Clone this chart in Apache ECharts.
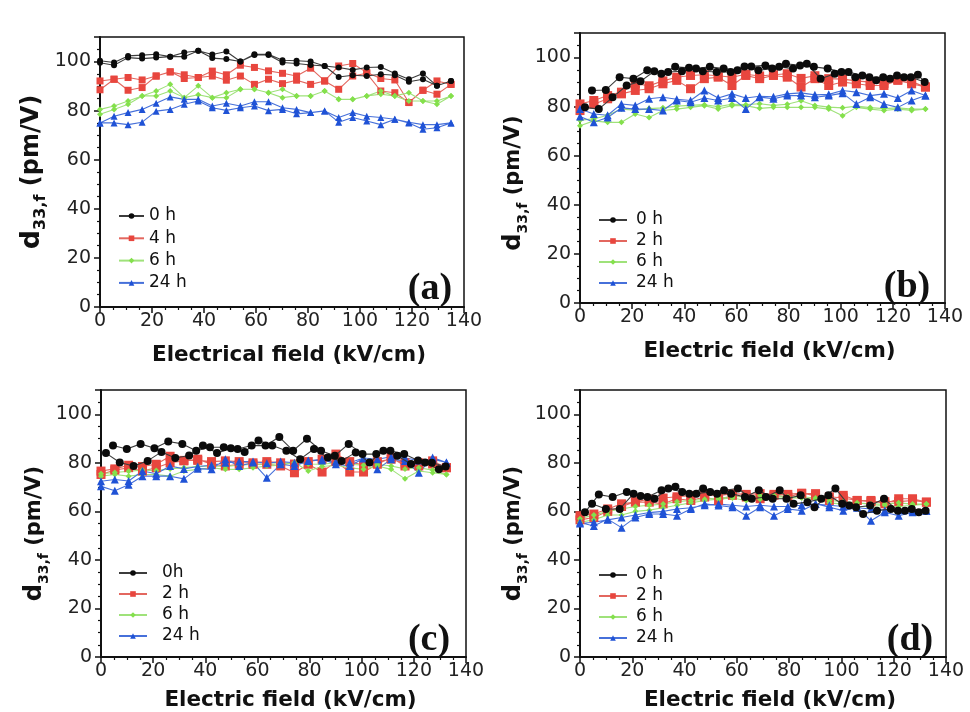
<!DOCTYPE html>
<html>
<head>
<meta charset="utf-8">
<script src="https://cdn.jsdelivr.net/npm/echarts/dist/echarts.min.js"></script>
<style>
  html, body { margin: 0; padding: 0; background: #fff; }
  #chart { width: 970px; height: 712px; }
</style>
</head>
<body>
<div id="chart"></div>
<script>
// ---- Electric field sampling (kV/cm) ----
const fieldA = [0, 5.4, 10.8, 16.2, 21.6, 27, 32.4, 37.8, 43.2, 48.6, 54, 59.4, 64.8, 70.2, 75.6, 81, 86.4, 91.8, 97.2, 102.6, 108, 113.4, 118.8, 124.2, 129.6, 135];
const fieldB = [0, 5.3, 10.6, 15.9, 21.2, 26.5, 31.8, 37.1, 42.4, 47.7, 53, 58.3, 63.6, 68.9, 74.2, 79.5, 84.8, 90.1, 95.4, 100.7, 106, 111.3, 116.6, 121.9, 127.2, 132.5];
const fieldFineUp = [1.9, 7.2, 12.5, 17.9, 23.2, 28.5, 33.8, 39.1, 44.5, 49.8, 55.1, 60.4, 65.7, 71.1, 76.4, 81.7, 87, 92.3, 97.7, 103, 108.3, 113.6, 118.9, 124.3, 129.6];
const fieldFineDown = [4.6, 9.9, 15.2, 20.5, 25.8, 31.2, 36.5, 41.8, 47.1, 52.4, 57.8, 63.1, 68.4, 73.7, 79, 84.4, 89.7, 95, 100.3, 105.6, 111, 116.3, 121.6, 126.9, 132.2];

// ---- (a) d33,f (pm/V), rising and falling sweeps ----
const a0Up = [99.5, 98.5, 101.6, 101.2, 101.6, 102, 102, 104.4, 101.4, 101, 100, 102.7, 102.7, 99.6, 99.2, 98.6, 98.2, 93.7, 94.4, 94.1, 94.8, 94.4, 91.8, 92.8, 90.1, 92.1];
const a0Down = [100.3, 99.6, 102.3, 102.6, 103, 102, 103.7, 104.4, 102.9, 104.1, 100, 103, 103, 100.5, 100.3, 100, 98.2, 97.6, 96.6, 97.6, 97.8, 95.1, 92.8, 95.1, 90.1, 92.1];
const a4Up = [88.5, 92.8, 88.3, 89.4, 94.1, 95.8, 93.1, 93.5, 94.1, 92.4, 94.1, 90.7, 92.8, 91, 92.4, 90.7, 92.1, 88.7, 94.1, 95.2, 88, 87.3, 83.3, 88.3, 86.7, 90.7];
const a4Down = [92.1, 92.8, 93.5, 92.5, 94.1, 95.8, 94.6, 93.5, 96.1, 94.6, 98.5, 97.6, 96.2, 95.2, 94.1, 97.3, 92.1, 98.2, 99.2, 95.5, 93.1, 92.5, 83.3, 88.3, 92.1, 90.7];
const a6Up = [78.5, 80.5, 82.6, 86, 86, 88, 85.3, 86.5, 85.3, 85.3, 88.7, 88.7, 87.3, 85.3, 86, 86, 88, 84.6, 84.6, 86, 86.7, 86, 83.9, 83.9, 82.6, 86];
const a6Down = [80.5, 81.9, 83.9, 86, 88, 90.7, 85.3, 90.1, 85.3, 87.3, 88.7, 88.7, 87.3, 88.7, 86, 86, 88, 84.6, 84.6, 86, 88, 86, 87.3, 83.9, 83.9, 86];
const a24Up = [75, 75, 74.3, 75.3, 79.8, 80.5, 82.6, 83.9, 81.2, 80.1, 81.2, 81.9, 80, 80.5, 78.7, 79.2, 79.9, 75.3, 77.2, 75.8, 74.3, 76.5, 75, 72.4, 73, 75];
const a24Down = [75, 77.7, 79.2, 80.5, 83, 85.6, 84.6, 84.6, 81.9, 83, 81.9, 83.6, 83.6, 81.2, 80.5, 79.2, 79.9, 77.2, 79.2, 77.7, 77.2, 76.5, 75.3, 74.3, 74.3, 75];

// ---- (b) ----
const b0Up = [79.7, 79, 83.8, 88.6, 90.3, 94.4, 94.1, 94.4, 95.5, 96.2, 95.5, 94.8, 96.4, 96.8, 96.2, 95.5, 97.5, 91.4, 93.4, 94.1, 92.7, 90.7, 91.4, 92, 93];
const b0Down = [86.6, 86.8, 92, 91.4, 94.8, 93.4, 96.2, 95.8, 94.4, 94.1, 94.1, 96.4, 94.8, 95.5, 97.5, 96.8, 96.2, 95.5, 94.1, 92, 92, 92, 92.7, 92, 90];
const b2Up = [78.4, 81, 83.2, 85.2, 86.6, 87.3, 89.3, 90.7, 87.3, 91.4, 92, 88.6, 92.7, 91.4, 92.7, 92, 88, 91.4, 88.6, 90, 89.3, 88.6, 88.6, 90.7, 89.3, 88];
const b2Down = [81.1, 82.5, 84.5, 85.9, 89.3, 88.5, 90.5, 92, 92.7, 93, 92.6, 92, 93.2, 92.5, 93, 93.4, 91.5, 92.6, 91.4, 91.2, 90.5, 90, 89.5, 91, 90.2, 88];
const b6Up = [72.2, 74.2, 73.6, 73.6, 77, 75.6, 78.4, 79, 79.7, 80.4, 79, 80.4, 80.4, 79.3, 79.7, 79.7, 79.7, 79.7, 79, 76.3, 79.7, 79, 78.4, 79, 78.4, 79];
const b6Down = [74.5, 75, 76.5, 79, 78.5, 79.2, 79.5, 80.2, 80.5, 80.8, 80, 81, 80.8, 81.2, 80.5, 81, 82.4, 80.5, 79.8, 79.5, 80.2, 79.6, 79.2, 79.5, 79, 79];
const b24Up = [76, 73.6, 75.6, 79.5, 79, 79, 78.4, 82.5, 81.8, 83.5, 82.5, 83.5, 79, 83.8, 83.2, 84.5, 84.5, 83.8, 84.5, 85.5, 81.1, 83.8, 81.1, 79.7, 82.5, 84.5];
const b24Down = [79, 77, 76.5, 81.1, 80.5, 83.2, 83.8, 83, 82.5, 86.6, 83.5, 85.2, 83.5, 84.2, 84, 85.2, 85.6, 84.8, 85, 86.6, 85.9, 84.5, 85.2, 83.5, 86.6, 84.5];

// ---- (c) ----
const c0Up = [84, 80.1, 78.7, 80.8, 84.5, 82, 83, 87.1, 84, 86, 84.5, 89.2, 87.1, 85, 81.5, 85.7, 82.2, 80.8, 84.3, 80.1, 85, 82.9, 79.5, 80.1, 77.3];
const c0Down = [87.1, 85.7, 87.8, 86, 88.8, 87.8, 85, 86.4, 86.4, 85.7, 87.1, 87.1, 90.6, 85, 89.9, 85, 82.9, 87.8, 83.6, 83.6, 85, 83.6, 81, 80, 78.5];
const c2Up = [75.2, 77, 78, 76.6, 78, 80, 80.8, 81.5, 79.4, 78.7, 79.4, 79.4, 79.4, 78.7, 75.9, 79.4, 76.2, 80.5, 76.2, 76.2, 79.4, 82.2, 78.7, 78.7, 80.8, 78];
const c2Down = [76.6, 77.5, 79, 78.5, 79.4, 82.7, 81, 81, 80.5, 80.8, 80.5, 80, 80.5, 80, 79.5, 80.5, 81.5, 83.6, 80.5, 79, 80.5, 81.5, 80, 80, 79.5, 78];
const c6Up = [74.5, 75.2, 74.5, 75.2, 75.2, 74.5, 76.6, 77.3, 78, 77.3, 77.3, 78, 78.7, 79, 80.1, 76.6, 78.5, 79, 78, 77.3, 78.7, 77.3, 73.4, 76.6, 75.9, 75.2];
const c6Down = [75.5, 76, 76.5, 77, 76.8, 77.5, 78, 78.5, 78.7, 78.5, 79, 79.4, 79.4, 79.6, 80, 79.5, 79.4, 80, 79.4, 79, 79.4, 78.7, 77.5, 78, 77, 75.2];
const c24Up = [70.3, 68.5, 71, 74.5, 74.5, 74.5, 73.4, 77.6, 77.3, 81.5, 78.7, 80.1, 73.8, 79.4, 78.7, 80.8, 81.5, 79.4, 78.7, 81.8, 77.3, 81.5, 80.8, 75.9, 82.2, 80.1];
const c24Down = [72.4, 73.1, 72.5, 76.6, 75.5, 78.7, 77.5, 78.5, 79, 80, 80.5, 80.5, 79.8, 80.5, 80, 81, 81, 80.5, 80, 82, 81.5, 82.5, 82, 81, 81.5, 80.1];

// ---- (d) ----
const d0Up = [59.6, 66.9, 65.9, 68, 66.3, 65.2, 69.4, 68, 67.3, 68, 68.7, 69.4, 65.2, 65.9, 68.7, 63.1, 63.8, 65.2, 69.4, 62.4, 58.9, 60.3, 61, 60.3, 59.6];
const d0Down = [63.1, 61, 61, 67.3, 65.9, 68.7, 70.1, 67.3, 69.4, 67.3, 67.3, 65.9, 68.7, 65.2, 65.2, 66.6, 61.7, 66.6, 63.1, 61.7, 62.4, 65.2, 60.3, 61, 60.3];
const d2Up = [58.2, 58.9, 61, 63.1, 63.8, 63.8, 63.1, 65.2, 64.5, 65.9, 64.5, 66.6, 65.9, 65.2, 66.6, 66, 67.3, 67.3, 64.5, 66.6, 64.5, 64.5, 63.1, 65.2, 65.2, 63.8];
const d2Down = [56.5, 57.5, 60, 62, 64, 65, 65.5, 66, 66.5, 67, 66.5, 67.3, 67, 67.3, 67, 67, 67.5, 66.5, 66, 65.5, 64.5, 64, 64, 64, 64.5, 63.8];
const d6Up = [55.5, 56.5, 58.5, 58.5, 60, 60.5, 61.5, 62.5, 63.5, 64.5, 65, 65.5, 64.5, 65, 65.5, 65.5, 65.5, 65, 63.5, 63, 62, 62, 62.5, 62, 62.5, 63];
const d6Down = [57, 58.5, 60, 61, 62, 62.5, 63, 64, 64.5, 65, 65.5, 66, 66, 66.5, 66.5, 66, 66, 65.5, 64.5, 64, 63.5, 63, 63, 63.5, 63, 63];
const d24Up = [55.4, 54, 56.8, 53.3, 57.5, 58.9, 58.9, 58.2, 61, 63.1, 62.4, 61.7, 58.2, 61.7, 58.2, 61, 60.3, 63.1, 61.7, 60.3, 61.7, 56.1, 59.6, 58.2, 59.6, 60.3];
const d24Down = [55, 55.5, 56.5, 57.5, 58.5, 59.5, 60, 61, 61.5, 62.5, 63, 62.5, 62, 62.5, 62, 62, 62.5, 63, 62.5, 62, 61.5, 61, 60.5, 60.5, 60.3, 60.3];

// ---- Legend labels per panel ----
const legendA = ['0 h', '4 h', '6 h', '24 h'];
const legendB = ['0 h', '2 h', '6 h', '24 h'];
const legendC = ['0h', '2 h', '6 h', '24 h'];
const legendD = ['0 h', '2 h', '6 h', '24 h'];

const FONT = '"DejaVu Sans", Verdana, sans-serif';
const panels = [
  { key: 'a', grid: { left: 100, top: 37, width: 364, height: 270 }, xTitle: 'Electrical field (kV/cm)', letter: '(a)', letterPos: [430, 289],
    legend: { left: 118, top: 206, gap: 2.3, width: 25, pad: 0 }, yGap: 51, yShift: 0, big: true, labels: legendA },
  { key: 'b', grid: { left: 580, top: 33, width: 365, height: 270 }, xTitle: 'Electric field (kV/cm)', letter: '(b)', letterPos: [907, 287],
    legend: { left: 598, top: 210, gap: 1.0, width: 28, pad: 4 }, yGap: 46, yShift: 30, big: false, labels: legendB },
  { key: 'c', grid: { left: 101, top: 390, width: 365, height: 267 }, xTitle: 'Electric field (kV/cm)', letter: '(c)', letterPos: [429, 640],
    legend: { left: 118, top: 563, gap: 1.0, width: 28, pad: 10 }, yGap: 46, yShift: 20, big: false, labels: legendC },
  { key: 'd', grid: { left: 580, top: 390, width: 366, height: 267 }, xTitle: 'Electric field (kV/cm)', letter: '(d)', letterPos: [910, 640],
    legend: { left: 598, top: 565, gap: 1.0, width: 28, pad: 4 }, yGap: 46, yShift: 20, big: false, labels: legendD }
];

// symbol / colour style of the four ageing times
const kinds = [
  { symbol: 'circle', fill: '#0b0b0b', line: '#3c3c3c', sizeA: 6, size: 8 },
  { symbol: 'rect', fill: '#e8463e', line: '#e3675f', sizeA: 7, size: 9 },
  { symbol: 'diamond', fill: '#84e04c', line: '#9fe27a', sizeA: 6, size: 6 },
  { symbol: 'triangle', fill: '#1f52d6', line: '#4670da', sizeA: 7, size: 8 }
];

// sweep pairs (x of rising sweep, y rising, x of falling sweep, y falling)
const sweeps = {
  a: [[fieldA, a0Up, fieldA, a0Down], [fieldA, a4Up, fieldA, a4Down], [fieldA, a6Up, fieldA, a6Down], [fieldA, a24Up, fieldA, a24Down]],
  b: [[fieldFineUp, b0Up, fieldFineDown, b0Down], [fieldB, b2Up, fieldB, b2Down], [fieldB, b6Up, fieldB, b6Down], [fieldB, b24Up, fieldB, b24Down]],
  c: [[fieldFineUp, c0Up, fieldFineDown, c0Down], [fieldB, c2Up, fieldB, c2Down], [fieldB, c6Up, fieldB, c6Down], [fieldB, c24Up, fieldB, c24Down]],
  d: [[fieldFineUp, d0Up, fieldFineDown, d0Down], [fieldB, d2Up, fieldB, d2Down], [fieldB, d6Up, fieldB, d6Down], [fieldB, d24Up, fieldB, d24Down]]
};

function loopData(xu, yu, xd, yd) {
  const up = xu.map((x, i) => [x, yu[i]]);
  const down = xd.map((x, i) => [x, yd[i]]).reverse();
  return up.concat(down);
}

const grids = [], xAxes = [], yAxes = [], series = [], legends = [], graphics = [];

panels.forEach((p, gi) => {
  grids.push(Object.assign({ show: true, borderColor: '#111', borderWidth: 1.5, backgroundColor: 'transparent' }, p.grid));
  xAxes.push({
    type: 'value', gridIndex: gi, min: 0, max: 140, interval: 20,
    axisLine: { lineStyle: { color: '#111', width: 2 } },
    axisTick: { inside: false, length: 6, lineStyle: { color: '#111', width: 1.5 } },
    minorTick: { show: true, splitNumber: 4, length: 3, lineStyle: { color: '#111', width: 1.2 } },
    splitLine: { show: false },
    axisLabel: { fontFamily: FONT, fontSize: 19, color: '#222', margin: 5 },
    name: p.xTitle, nameLocation: 'middle', nameGap: gi < 2 ? 37 : 32,
    nameTextStyle: { fontFamily: FONT, fontSize: 21.5, fontWeight: 'bold', color: '#111', padding: [0, 0, 0, 14] }
  });
  const big = p.big;
  yAxes.push({
    type: 'value', gridIndex: gi, min: 0, max: 110, interval: 20,
    axisLine: { show: true, lineStyle: { color: '#111', width: 2 } },
    axisTick: { show: true, inside: false, length: 6, lineStyle: { color: '#111', width: 1.5 } },
    minorTick: { show: true, splitNumber: 4, length: 3, lineStyle: { color: '#111', width: 1.2 } },
    splitLine: { show: false },
    axisLabel: { fontFamily: FONT, fontSize: 19, color: '#222', margin: 9, showMaxLabel: false },
    name: '{d|d}{s|33,f}{u| (pm/V)}', nameLocation: 'middle', nameRotate: 90, nameGap: p.yGap,
    nameTextStyle: {
      padding: [0, p.yShift, 0, 0],
      rich: {
        d: { fontFamily: FONT, fontWeight: 'bold', fontSize: big ? 27 : 24, color: '#111', lineHeight: 34 },
        s: { fontFamily: FONT, fontWeight: 'bold', fontSize: big ? 16 : 14, color: '#111', lineHeight: 34, verticalAlign: 'bottom' },
        u: { fontFamily: FONT, fontWeight: 'bold', fontSize: big ? 24 : 21, color: '#111', lineHeight: 34 }
      }
    }
  });

  const names = [];
  sweeps[p.key].forEach((s, k) => {
    const kind = kinds[k];
    const name = p.key + '|' + p.labels[k];
    names.push(name);
    series.push({
      type: 'line', name: name, xAxisIndex: gi, yAxisIndex: gi,
      data: loopData(s[0], s[1], s[2], s[3]),
      symbol: kind.symbol, symbolSize: big ? kind.sizeA : kind.size,
      itemStyle: { color: kind.fill },
      lineStyle: { color: kind.line, width: 1.1 },
      z: k === 0 ? 4 : 3,
      animation: false
    });
  });

  legends.push({
    data: names, orient: 'vertical', left: p.legend.left, top: p.legend.top,
    itemWidth: p.legend.width, itemHeight: 7, itemGap: p.legend.gap, selectedMode: false, padding: 0,
    formatter: n => n.split('|')[1],
    textStyle: { fontFamily: FONT, fontSize: 17, color: '#111', lineHeight: 20, padding: [0, 0, 0, p.legend.pad] }
  });

  graphics.push({
    type: 'text', x: p.letterPos[0], y: p.letterPos[1], z: 10,
    style: { text: p.letter, fill: '#111', align: 'center', verticalAlign: 'middle',
      font: 'bold 38px "Liberation Serif", "Times New Roman", serif' }
  });
});

const chart = echarts.init(document.getElementById('chart'), null, { renderer: 'canvas' });
chart.setOption({
  backgroundColor: '#fff',
  animation: false,
  grid: grids, xAxis: xAxes, yAxis: yAxes,
  legend: legends, series: series, graphic: graphics
});
</script>
</body>
</html>
